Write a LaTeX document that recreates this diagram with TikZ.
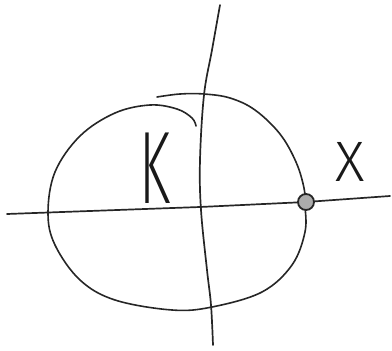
\documentclass[tikz,border=0pt]{standalone}
\usepackage{fontspec}
\newfontfamily\handfont{Fira Sans Light}

\begin{document}
\begin{tikzpicture}[%
        x=1pt, y=-1pt,
        line cap=round,
        axisline/.style={draw=black!85, line width=1.7pt},
        loopline/.style={draw=black!85, line width=1.6pt},
        letter/.style={inner sep=0pt, text=black!90, font=\handfont}]
        \useasboundingbox (0,0) rectangle (392,351);
        % Axes
        \draw[axisline] (7,214) -- (200,207) -- (306,202) -- (390,196);
        \draw[axisline] plot[smooth, tension=0.6] coordinates {(220,5) (212,50) (204,95) (200,160) (201,210) (207,270) (211,305) (213,345)};

        % Curve
        \draw[loopline] plot[smooth, tension=0.6] coordinates {(157,97) (180,94) (204,94) (230,98) (255,110) (280,134) (296,162) (304,188) (305,205) (305,232) (292,265) (262,292) (212,307) (172,310) (115,300) (80,280) (55,245) (48,213) (55,172) (80,136) (115,113) (150,105) (177,109) (192,118) (196,126)};

        % Point
        \coordinate (p) at (306,202);
        \draw[black!85, fill=gray!65, line width=1.8pt] (p) circle (8);

        % Labels
        \node[letter, font=\handfont\fontsize{103}{103}\selectfont] (k) at (155,168) {\scalebox{0.55}[1]{K}};
        \node[letter, font=\handfont\fontsize{57}{57}\selectfont] (x) at (350,162) {X};
    \end{tikzpicture}
\end{document}
